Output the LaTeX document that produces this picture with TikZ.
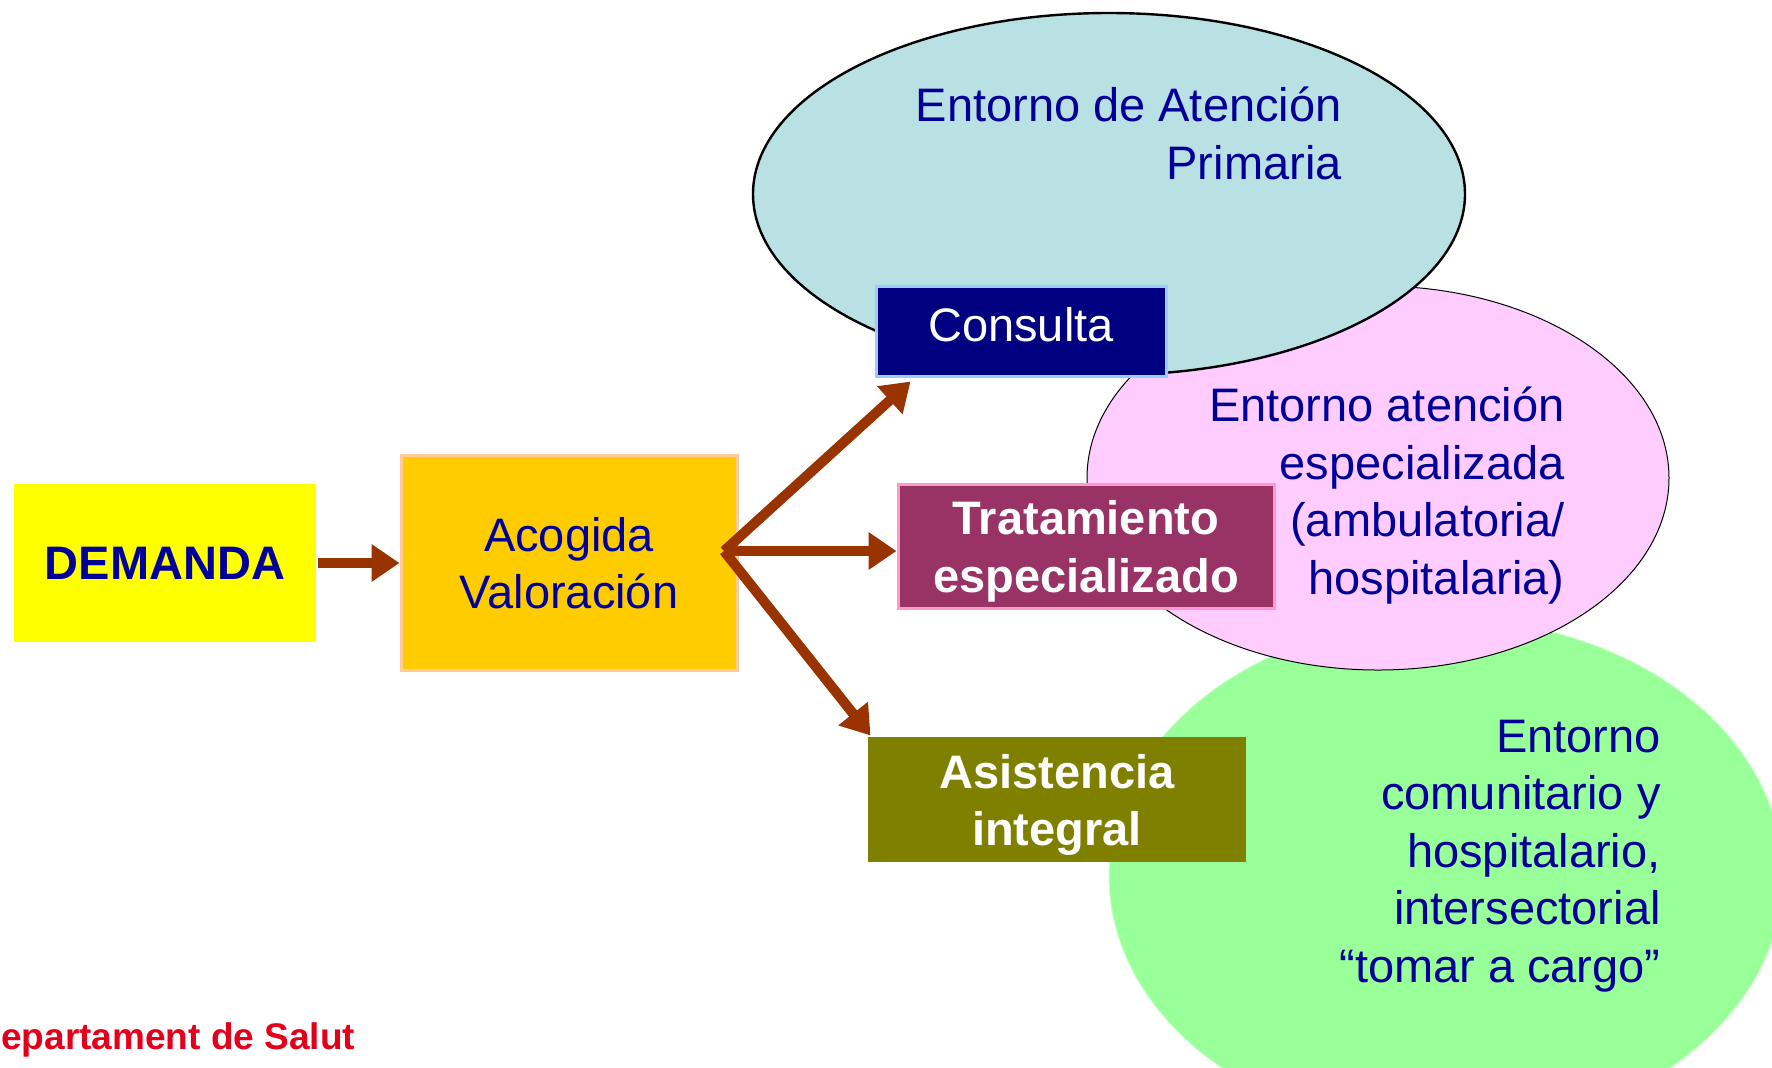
\documentclass[tikz,border=0pt]{standalone}
\usepackage{fontspec}
\setmainfont{Liberation Sans}
\usepackage{tikz}
\usetikzlibrary{arrows.meta,positioning,shapes.geometric}
\usepackage{xcolor}
\definecolor{azulT}{HTML}{000099}
\definecolor{marron}{HTML}{993300}
\definecolor{amarillo}{HTML}{FFFF00}
\definecolor{naranja}{HTML}{FFCC00}
\definecolor{naranjaB}{HTML}{FFCC99}
\definecolor{marino}{HTML}{000080}
\definecolor{celesteB}{HTML}{99CCFF}
\definecolor{granate}{HTML}{993366}
\definecolor{rosaB}{HTML}{FF99CC}
\definecolor{oliva}{HTML}{808000}
\definecolor{turquesa}{HTML}{B9E0E2}
\definecolor{rosa}{HTML}{FFCCFF}
\definecolor{verde}{HTML}{99FF99}
\definecolor{verdeB}{HTML}{CCFFCC}
\definecolor{rojoS}{HTML}{E2001A}
\newcommand{\tam}{\fontsize{23.5}{28.8}\selectfont}

\begin{document}
\begin{tikzpicture}[
			x=0.5pt,y=-0.5pt,
			every node/.style={font=\tam},
			caja/.style={rectangle,inner sep=0pt,align=center,line width=1.5pt},
			nube/.style={ellipse,inner sep=0pt},
			txt/.style={text=azulT,align=right,inner sep=0pt,anchor=east},
			flecha/.style={-{Triangle[length=14pt,width=18pt]},line width=5pt,draw=marron},
			]
			\useasboundingbox (0,0) rectangle (1772,1067);
			\clip (0,0) rectangle (1772,1067);
			% entornos
			\node [nube,fill=verde,draw=verdeB,line width=0.5pt,minimum width=337pt,minimum height=257pt] (ecom) at (1446,876) {};
			\node [nube,fill=rosa,draw,line width=0.5pt,minimum width=291pt,minimum height=192pt] (eesp) at (1378,478) {};
			\node [nube,fill=turquesa,draw,line width=1.2pt,minimum width=356pt,minimum height=181pt] (epri) at (1109,194) {};
			\node [txt] (tpri) at (1342,133.5) {Entorno de Atención\\Primaria};
			\node [txt] (tesp) at (1565,495.5) {Entorno atención\\especializada\\(ambulatoria/\\hospitalaria)};
			\node [txt] (tcom) at (1661,856) {Entorno\\comunitario y\\hospitalario,\\intersectorial\\“tomar a cargo”};
			% cajas
			\node [caja,fill=amarillo,text=azulT,font=\tam\bfseries,minimum width=151pt,minimum height=79pt] (dem) at (165,563) {DEMANDA};
			\node [caja,fill=naranja,draw=naranjaB,text=azulT,minimum width=168pt,minimum height=107.5pt,right=41pt of dem] (acog) {Acogida\\Valoración};
			\node [caja,fill=marino,draw=celesteB,text=white,text depth=7pt,minimum width=145pt,minimum height=45pt] (cons) at (1021,331) {Consulta};
			\node [caja,fill=granate,draw=rosaB,text=white,font=\tam\bfseries,text height=51.3pt,minimum width=188pt,minimum height=62pt] (trat) at (1086,546) {Tratamiento\\especializado};
			\node [caja,fill=oliva,text=white,font=\tam\bfseries,text height=51.3pt,minimum width=189pt,minimum height=62.5pt] (asis) at (1057,799.5) {Asistencia\\integral};
			\node [anchor=west,inner sep=0pt,text=rojoS,font=\fontsize{18.5}{22}\selectfont\bfseries] (dept) at (1,1040) {epartament de Salut};
			% flechas
			\coordinate (fork) at (724,551);
			\draw [flecha] (dem) -- (acog);
			\draw [flecha] (fork) -- ([xshift=18pt,yshift=-2pt]cons.south west);
			\draw [flecha] (fork) -- (fork -| trat.west);
			\draw [flecha] (fork) -- ([xshift=2pt]asis.north west);
		\end{tikzpicture}
\end{document}
